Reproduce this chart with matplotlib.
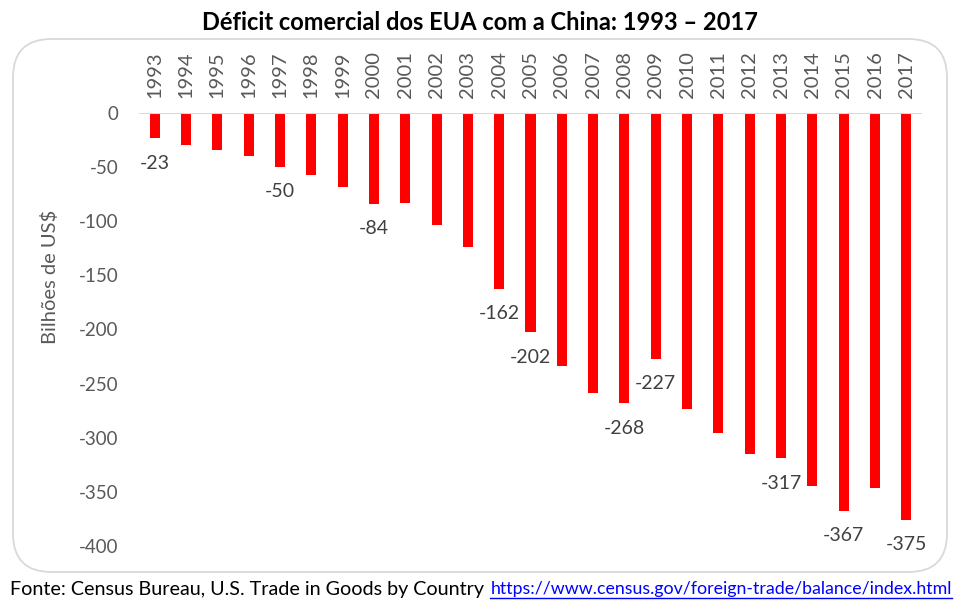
import matplotlib

matplotlib.use("Agg")
import matplotlib.pyplot as plt
from matplotlib.patches import FancyBboxPatch

# Deficit in billions of US$
years = [str(y) for y in range(1993, 2018)]
deficit = [-23, -29.5, -33.8, -39.5, -49.7, -56.9, -68.7, -83.8, -83.1, -103.1,
           -124.1, -162.3, -202.3, -234.1, -258.5, -268.0, -226.9, -273.0,
           -295.3, -315.1, -318.7, -344.8, -367.3, -346.8, -375.6]
labelled = ["1993", "1997", "2000", "2004", "2005", "2008", "2009", "2013",
            "2015", "2017"]
label_text = {"1993": "-23", "1997": "-50", "2000": "-84", "2004": "-162",
              "2005": "-202", "2008": "-268", "2009": "-227", "2013": "-317",
              "2015": "-367", "2017": "-375"}
yticks = [0, -50, -100, -150, -200, -250, -300, -350, -400]

plt.rcParams["font.family"] = ["Lato", "DejaVu Sans"]
GRAY = "#595959"

fig = plt.figure(figsize=(9.59, 6.06), dpi=100)
W, H = 959, 606

# rounded chart border (pixel box: x 13..947, y 39..572)
box = FancyBboxPatch((13 / W, 1 - 572 / H), 934 / W, 533 / H,
                     boxstyle="round,pad=0,rounding_size=0.04",
                     transform=fig.transFigure, facecolor="white",
                     edgecolor="#D9D9D9", linewidth=1.3, mutation_aspect=W / H,
                     zorder=-10)
fig.patches.append(box)

ax = fig.add_axes([139 / W, 1 - 546 / H, (922 - 139) / W, (546 - 113) / H])
ax.set_zorder(5)
ax.patch.set_alpha(0)
x = list(range(len(years)))
ax.bar(x, deficit, width=0.32, color="#FF0000", zorder=2)
ax.set_xlim(-0.5, len(years) - 0.5)
ax.set_ylim(-400, 0)
ax.axhline(0, color="#D9D9D9", linewidth=1.5, zorder=3)

for side in ax.spines.values():
    side.set_visible(False)

ax.xaxis.tick_top()
ax.set_xticks(x)
ax.set_xticklabels(years, rotation=90, color=GRAY, fontsize=14.5)
ax.tick_params(axis="x", length=0, pad=11)
ax.set_yticks(yticks)
ax.set_yticklabels([str(v) for v in yticks], color=GRAY, fontsize=13.5)
ax.tick_params(axis="y", length=0, pad=15)
ax.set_ylabel("Bilhões de US$", color=GRAY, fontsize=14.5, va="center")
ax.yaxis.set_label_coords(-0.114, 0.621)

for i, yr in enumerate(years):
    if yr in labelled:
        ax.annotate(label_text[yr], (i, deficit[i]), xytext=(0, -12),
                    textcoords="offset points", ha="center", va="top",
                    fontsize=14, color="#404040")

fig.text(0.5, 1 - 22 / H, "Déficit comercial dos EUA com a China: 1993 – 2017",
         ha="center", va="center", fontsize=17, fontweight="bold", color="black")
fig.text(10 / W, 1 - 589 / H, "Fonte: Census Bureau, U.S. Trade in Goods by Country",
         ha="left", va="center", fontsize=14.2, color="black")
fig.text(952 / W, 1 - 589 / H, "https://www.census.gov/foreign-trade/balance/index.html",
         ha="right", va="center", fontsize=12.8, color="#0000FF")
fig.add_artist(plt.Line2D([490 / W, 952 / W], [1 - 598 / H, 1 - 598 / H],
                          color="#0000FF", linewidth=1))

fig.savefig("out.png", dpi=100)
